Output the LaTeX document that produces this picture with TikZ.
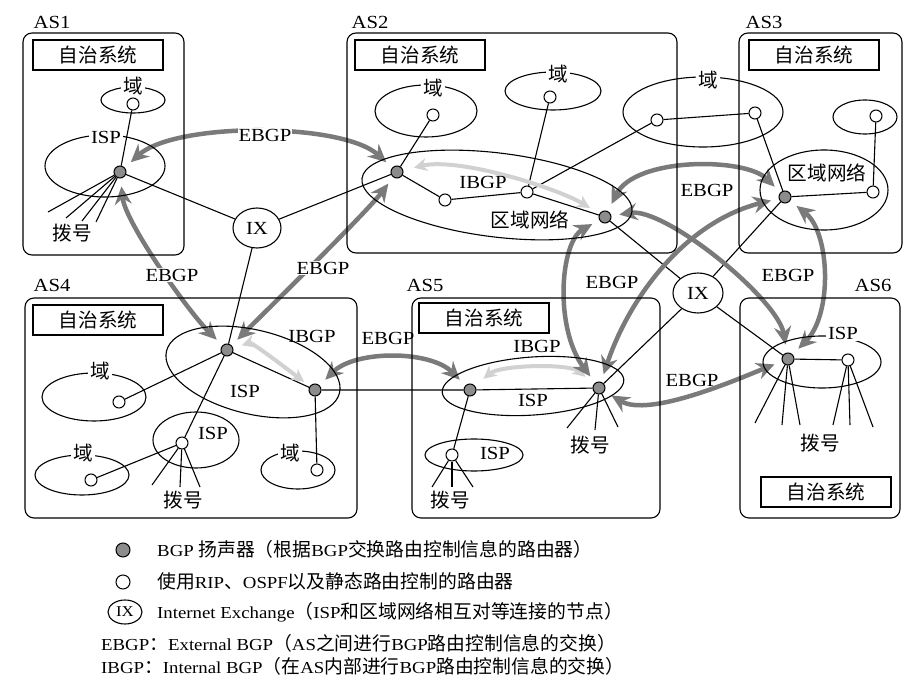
\documentclass[tikz,border=0pt]{standalone}
\usepackage{fontspec}
\setmainfont[FakeStretch=1.12]{Liberation Serif}
\newfontfamily\cjk[Scale=1.12]{Noto Sans CJK SC}
\newcommand{\zh}[1]{{\cjk #1}}
\usetikzlibrary{shapes.geometric,arrows.meta,backgrounds}

\begin{document}
\begin{tikzpicture}[x=1pt,y=-1pt,
	lab/.style={font=\fontsize{18.5}{20}\selectfont,inner sep=1pt},
	zlab/.style={font=\cjk\fontsize{17.5}{20}\selectfont,inner sep=1pt},
	gap/.style={zlab,fill=white,inner sep=2pt},
	title/.style={zlab,draw,line width=1.1pt,minimum width=130,minimum height=30},
	asbox/.style={draw,line width=1.1pt,rounded corners=9},
	area/.style={draw,ellipse,line width=1.1pt,inner sep=0pt},
	bgp/.style={circle,draw,fill=black!45,line width=1pt,minimum size=12,inner sep=0pt},
	rtr/.style={circle,draw,fill=white,line width=1pt,minimum size=12,inner sep=0pt},
	ix/.style={ellipse,draw,fill=white,line width=1.1pt,minimum width=48,minimum height=40,inner sep=0pt,font=\fontsize{18.5}{20}\selectfont},
	ln/.style={line width=1.1pt},
	ebgp/.style={draw=black!52,line width=4.5pt,{Stealth[length=18pt,width=17pt,inset=6pt]}-{Stealth[length=18pt,width=17pt,inset=6pt]},shorten <=8pt,shorten >=8pt},
	ibgp/.style={draw=black!18,line width=4pt,{Stealth[length=13pt,width=13pt,inset=4pt]}-{Stealth[length=13pt,width=13pt,inset=4pt]},shorten <=11pt,shorten >=11pt},
	leg/.style={font=\fontsize{16.8}{18}\selectfont,anchor=west,inner sep=0pt}]
	\useasboundingbox (0,0) rectangle (922,695);

	% autonomous systems
	\draw[asbox] (23,33) rectangle (184,255);
	\draw[asbox] (347,33) rectangle (677,253);
	\draw[asbox] (739,33) rectangle (902,253);
	\draw[asbox] (25,298) rectangle (357,518);
	\draw[asbox] (412,298) rectangle (660,518);
	\draw[asbox] (740,298) rectangle (900,518);
	\node[lab] (as1) at (52,22) {AS1};
	\node[lab] (as2) at (370,22) {AS2};
	\node[lab] (as3) at (764,22) {AS3};
	\node[lab] (as4) at (52,285) {AS4};
	\node[lab] (as5) at (425,285) {AS5};
	\node[lab] (as6) at (873,285) {AS6};
	\node[title] (t1) at (98,55) {自治系统};
	\node[title] (t2) at (420,55) {自治系统};
	\node[title] (t3) at (814,55) {自治系统};
	\node[title] (t4) at (98,320) {自治系统};
	\node[title] (t5) at (484,318) {自治系统};
	\node[title] (t6) at (826,492) {自治系统};

	% networks
	\node[area,minimum width=64,minimum height=26] (d1) at (133,100) {};
	\node[area,minimum width=120,minimum height=62] (isp1) at (105,166) {};
	\node[area,minimum width=102,minimum height=52] (d2a) at (426,111) {};
	\node[area,minimum width=96,minimum height=38] (d2b) at (553,91) {};
	\node[area,minimum width=160,minimum height=70] (d2c) at (703,112) {};
	\node[area,minimum width=272,minimum height=84,rotate=-7] (rn2) at (497,195) {};
	\node[area,minimum width=128,minimum height=80] (rn3) at (824,190) {};
	\node[area,minimum width=64,minimum height=34] (d3) at (865,117) {};
	\node[area,minimum width=178,minimum height=84,rotate=-13.6] (isp4) at (253,372) {};
	\node[area,minimum width=104,minimum height=48] (d4a) at (94,397) {};
	\node[area,minimum width=94,minimum height=40] (d4b) at (82,475) {};
	\node[area,minimum width=74,minimum height=38] (d4c) at (298,470) {};
	\node[area,minimum width=86,minimum height=56] (isp4s) at (196,440) {};
	\node[area,minimum width=182,minimum height=58,rotate=4] (isp5) at (533,386) {};
	\node[area,minimum width=98,minimum height=32] (isp5s) at (474,455) {};
	\node[area,minimum width=118,minimum height=52] (isp6) at (822,362) {};

	\node[gap] (d1l) at (133,86) {域};
	\node[gap] (d2al) at (433,88) {域};
	\node[gap] (d2bl) at (558,74) {域};
	\node[gap] (d2cl) at (708,80) {域};
	\node[gap] (d4al) at (100,371) {域};
	\node[gap] (d4bl) at (83,453) {域};
	\node[gap] (d4cl) at (290,453) {域};
	\node[lab,fill=white,inner sep=2pt] (isp1l) at (106,137) {ISP};
	\node[lab,fill=white,inner sep=2pt] (isp6l) at (843,333) {ISP};
	\node[lab] (isp4l) at (245,391) {ISP};
	\node[lab] (isp4sl) at (213,433) {ISP};
	\node[lab] (isp5l) at (533,400) {ISP};
	\node[lab] (isp5sl) at (495,453) {ISP};
	\node[zlab] (rn2l) at (530,220) {区域网络};
	\node[zlab] (rn3l) at (827,173) {区域网络};
	\node[lab] (ib2) at (483,182) {IBGP};
	\node[lab] (ib4) at (312,336) {IBGP};
	\node[lab] (ib5) at (537,346) {IBGP};
	\node[zlab] (dial1) at (72,233) {拨号};
	\node[zlab] (dial4) at (183,500) {拨号};
	\node[zlab] (dial5a) at (590,445) {拨号};
	\node[zlab] (dial5b) at (450,500) {拨号};
	\node[zlab] (dial6) at (820,443) {拨号};

	% routers
	\node[ix] (ix1) at (257,228) {IX};
	\node[ix,minimum width=50] (ix2) at (698,293) {IX};
	\node[bgp] (g1) at (120,172) {};
	\node[bgp] (g2a) at (397,172) {};
	\node[bgp] (g2b) at (605,217) {};
	\node[bgp] (g3) at (785,197) {};
	\node[bgp] (g4a) at (227,350) {};
	\node[bgp] (g4b) at (315,390) {};
	\node[bgp] (g5a) at (470,390) {};
	\node[bgp] (g5b) at (599,388) {};
	\node[bgp] (g6) at (788,359) {};
	\node[rtr] (w1) at (133,104) {};
	\node[rtr] (w2a) at (433,115) {};
	\node[rtr] (w2b) at (550,97) {};
	\node[rtr] (w2c) at (445,200) {};
	\node[rtr] (w2d) at (527,192) {};
	\node[rtr] (w2e) at (657,120) {};
	\node[rtr] (w2f) at (755,113) {};
	\node[rtr] (w3a) at (876,116) {};
	\node[rtr] (w3b) at (873,192) {};
	\node[rtr] (w4a) at (119,402) {};
	\node[rtr] (w4b) at (91,480) {};
	\node[rtr] (w4c) at (182,443) {};
	\node[rtr] (w4d) at (317,470) {};
	\node[rtr] (w5) at (452,455) {};
	\node[rtr] (w6) at (848,360) {};

	\begin{scope}[on background layer]
		\draw[ln] (g1) -- (w1) (g1) -- (ix1) (ix1) -- (g2a) (ix1) -- (g4a);
		\draw[ln] (g4a) -- (w4c) (g4a) -- (w4a) (g4a) -- (g4b) (g4b) -- (w4d) (g4b) -- (g5a) (w4c) -- (w4b);
		\draw[ln] (g5a) -- (g5b) (g5a) -- (w5);
		\draw[ln] (g2a) -- (w2a) (g2a) -- (w2c) (w2c) -- (w2d) (w2d) -- (g2b) (w2d) -- (w2b) (w2d) -- (w2e) (w2e) -- (w2f) (w2f) -- (g3);
		\draw[ln] (g3) -- (w3b) (w3b) -- (w3a) (g6) -- (w6);
		\draw[ln] (g2b) -- (ix2) (ix2) -- (g3) (ix2) -- (g5b) (ix2) -- (g6);
		\foreach \dx/\dy in {-72/40,-54/46,-38/49,-24/50} \draw[ln] (g1) -- +(\dx,\dy);
		\foreach \dx/\dy in {-30/42,-2/44,18/44} \draw[ln] (w4c) -- +(\dx,\dy);
		\foreach \dx/\dy in {-32/40,-4/42,19/39} \draw[ln] (g5b) -- +(\dx,\dy);
		\foreach \dx/\dy in {-20/32,0/32,21/32} \draw[ln] (w5) -- +(\dx,\dy);
		\foreach \dx/\dy in {-33/64,-6/66,12/66} \draw[ln] (g6) -- +(\dx,\dy);
		\foreach \dx/\dy in {-15/65,2/65,25/67} \draw[ln] (w6) -- +(\dx,\dy);

		\draw[ibgp] (g2a) .. controls +(60,-15) and +(-50,-30) .. (g2b);
		\draw[ibgp,shorten <=9pt,shorten >=7pt] (g4a) .. controls +(25,-8) and +(-20,-15) .. (g4b);
		\draw[ibgp] (g5a) .. controls +(30,-25) and +(-30,-25) .. (g5b);

		\draw[ebgp] (g1) .. controls +(55,-50) and +(-55,-50) .. (g2a);
		\draw[ebgp] (g1) .. controls +(5,50) and +(-40,-40) .. (g4a);
		\draw[ebgp] (g2a) .. controls +(-30,40) and +(40,-40) .. (g4a);
		\draw[ebgp] (g4b) .. controls +(40,-40) and +(-40,-40) .. (g5a);
		\draw[ebgp] (g2b) .. controls +(-45,25) and +(-45,-60) .. (g5b);
		\draw[ebgp] (g5b) .. controls +(30,-90) and +(-100,25) .. (g3);
		\draw[ebgp] (g2b) .. controls +(30,-60) and +(-40,-40) .. (g3);
		\draw[ebgp] (g2b) .. controls +(60,-10) and +(-10,-60) .. (g6);
		\draw[ebgp] (g3) .. controls +(45,35) and +(45,-45) .. (g6);
		\draw[ebgp] (g5b) .. controls +(50,30) and +(-50,20) .. (g6);
	\end{scope}

	\node[lab,fill=white] (e1) at (265,135) {EBGP};
	\node[lab,fill=white] (e2) at (172,275) {EBGP};
	\node[lab,fill=white] (e3) at (323,268) {EBGP};
	\node[lab] (e4) at (388,338) {EBGP};
	\node[lab] (e5) at (612,282) {EBGP};
	\node[lab] (e7) at (707,190) {EBGP};
	\node[lab] (e9) at (788,275) {EBGP};
	\node[lab] (e10) at (692,380) {EBGP};

	% legend
	\node[bgp,minimum size=14] (k1) at (123,550) {};
	\node[rtr,minimum size=14] (k2) at (123,582) {};
	\node[ix,minimum width=34,minimum height=24,font=\fontsize{15}{16}\selectfont] (k3) at (125,612) {IX};
	\node[leg] (k1t) at (157,549) {BGP \zh{扬声器（根据}BGP\zh{交换路由控制信息的路由器）}};
	\node[leg] (k2t) at (157,581) {\zh{使用}RIP\zh{、}OSPF\zh{以及静态路由控制的路由器}};
	\node[leg] (k3t) at (157,612) {Internet Exchange\zh{（}ISP\zh{和区域网络相互对等连接的节点）}};
	\node[leg] (k4t) at (101,643) {EBGP\zh{：}External BGP\zh{（}AS\zh{之间进行}BGP\zh{路由控制信息的交换）}};
	\node[leg] (k5t) at (101,666) {IBGP\zh{：}Internal BGP\zh{（在}AS\zh{内部进行}BGP\zh{路由控制信息的交换）}};
\end{tikzpicture}
\end{document}
